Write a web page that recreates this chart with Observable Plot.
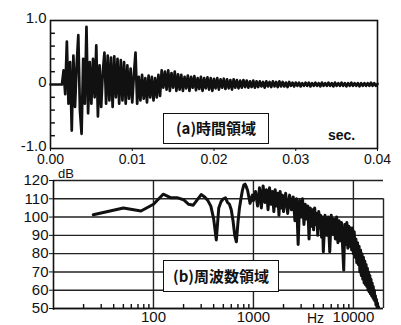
<!DOCTYPE html>
<html><head><meta charset="utf-8">
<script src="https://cdn.jsdelivr.net/npm/d3@7"></script>
<script src="https://cdn.jsdelivr.net/npm/@observablehq/plot@0.6"></script>
<style>
body{margin:0;background:#fff;}
#wrap{position:relative;width:401px;height:325px;overflow:hidden;background:#fff;font-family:"Liberation Sans",Arial,sans-serif;color:#111;}
#a,#b{position:absolute;left:0;}
#a{top:0}
#b{top:163px}
.box{position:absolute;border:1.5px solid #111;background:#fff;font-family:"Noto Sans CJK JP",sans-serif;font-weight:bold;font-size:15px;line-height:28px;text-align:center;box-sizing:border-box;}
.lbl{position:absolute;font-size:14px;line-height:14px;}
</style>
</head><body><div id="wrap"><div id="a"></div><div id="b"></div>
<div class="box" style="left:163px;top:113px;width:106px;height:31px;">(a)時間領域</div>
<div class="lbl" style="left:328px;top:128px;font-weight:bold;">sec.</div>
<div class="box" style="left:163px;top:260px;width:116px;height:32px;line-height:29px;">(b)周波数領域</div>
<div class="lbl" style="left:58px;top:167px;font-size:13px;line-height:13px;">dB</div>
<div class="lbl" style="left:307px;top:311px;">Hz</div>
</div>
<script>
// ---- Panel (a): time domain ----
const waveStart = 0.0014;   // s, first sample after silence
const waveStep = 0.0002;    // s, sample spacing
const waveValues = [
  0, 0.22, -0.15, 0.67, -0.3,
  0.35, -0.72, 0.45, -0.35, 0.3,
  0.77, -0.4, -0.77, 0.4, -0.3,
  0.9, -0.45, 0.35, -0.3, 0.4,
  -0.2, 0.61, -0.5, 0.3, -0.35,
  0.2, 0.5, -0.3, 0.45, -0.25,
  0.42, -0.35, 0.44, -0.2, 0.4,
  -0.3, 0.38, -0.25, 0.35, -0.3,
  0.3, -0.22, 0.25, -0.28, 0.15,
  0.5, -0.3, 0.12, -0.25, 0.15,
  -0.22, 0.1, -0.28, 0.14, -0.2,
  0.12, -0.25, 0.1, -0.2, 0.15,
  -0.18, 0.22, -0.05, 0.2, -0.08,
  0.22, -0.1, 0.18, -0.05, 0.2,
  -0.1, 0.16, -0.08, 0.15, -0.1,
  0.12, -0.06, 0.14, -0.1, 0.12,
  -0.05, 0.13, -0.09, 0.1, -0.07,
  0.12, -0.1, 0.1, -0.06, 0.11,
  -0.08, 0.1, -0.1, 0.09, -0.06,
  0.1, -0.08, 0.08, -0.05, 0.09,
  -0.07, 0.08, -0.06, 0.07, -0.08,
  0.08, -0.05, 0.07, -0.06, 0.06,
  -0.05, 0.07, -0.04, 0.06, -0.05,
  0.05, -0.04, 0.06, -0.05, 0.05,
  -0.04, 0.05, -0.03, 0.04, -0.05,
  0.05, -0.03, 0.04, -0.04, 0.05,
  -0.03, 0.04, -0.04, 0.05, -0.03,
  0.04, -0.03, 0.03, -0.04, 0.04,
  -0.02, 0.03, -0.03, 0.03, -0.02,
  0.03, -0.03, 0.02, -0.02, 0.03,
  -0.02, 0.03, -0.03, 0.02, -0.02,
  0.03, -0.02, 0.02, -0.03, 0.03,
  -0.02, 0.02, -0.02, 0.03, -0.02,
  0.02, -0.03, 0.03, -0.02, 0.02,
  -0.02, 0.03, -0.02, 0.02, -0.03,
  0.02, -0.02, 0.03, -0.02, 0.02,
  -0.02, 0.02, -0.03, 0.02, -0.02,
  0.02, -0.02, 0.02, -0.02, 0.03,
  -0.02, 0.02, -0.02, 0.01
];
const timeTicks = [0, 0.01, 0.02, 0.03, 0.04];
const timeTickLabels = ["0.00", "0.01", "0.02", "0.03", "0.04"];
const ampTicks = [-1, 0, 1];
const ampTickLabels = ["-1.0", "0", "1.0"];
const ampMinorTicks = [-0.8, -0.6, -0.4, -0.2, 0.2, 0.4, 0.6, 0.8];

// ---- Panel (b): frequency domain ----
const specLowFreq = [25,50,75,100,125,150,175,200,225,250,275,300,325,350,375,400,425,450,475,500,
  525,550,575,600,625,650,675,700,725,750,775,800,825,850,875,900,925,950,975,1000];
const specLowDb = [101.3,105,103.3,107,112.5,110.5,110.5,109.5,107,106.5,109.5,112.3,111,109,106,99,87.5,105,108.5,110,
  110.5,108,107,104,98,90,86.5,97,105,110,114.5,117.5,118,116.5,114.5,111,107.5,110,112,109];
// higher band sampled on a coarser grid: [start, stop, step] in Hz
const specHiGrid = [[1050, 2000, 50], [2100, 5000, 100], [5200, 19000, 200]];
const specHiDb = [
  114,106,116,105,117,108,115,104,116,107,114,103,115,106,113,101,114,105,112,103,
  113,102,112,104,111,98,110,85,109,100,110,96,107,99,106,88,105,95,104,93,105,96,102,90,103,94,101,89,100,81,
  101,90,100,81,101,91,99,88,100,86,98,87,97,84,71,
  96,85,97,83,95,84,94,82,94,80,
  92,78,88,75,86,74,84,70,82,68,
  80,66,78,64,76,63,74,62,72,60,
  70,59,68,58,66,57,64,56,62,55,
  60,54,57,52,55,51,53,50,51,48,
  49,47,46,45,44
];
const dbTicks = [50, 60, 70, 80, 90, 100, 110, 120];
const freqTicks = [100, 1000, 10000];
const freqTickLabels = ["100", "1000", "10000"];
const freqMinorTicks = [20,30,40,50,60,70,80,90,200,300,400,500,600,700,800,900,2000,3000,4000,5000,6000,7000,8000,9000];

// ---- build tables ----
const waveData = [{t: 0, v: 0}].concat(waveValues.map((v, i) => ({t: waveStart + i * waveStep, v})));
const hiFreq = specHiGrid.flatMap(([a, b, s]) => d3.range(a, b + s / 2, s));
const specData = specLowFreq.map((f, i) => ({f, db: specLowDb[i]}))
  .concat(hiFreq.map((f, i) => ({f, db: specHiDb[i]})));
const ampLabel = new Map(ampTicks.map((d, i) => [d, ampTickLabels[i]]));
const timeLabel = new Map(timeTicks.map((d, i) => [d, timeTickLabels[i]]));
const freqLabel = new Map(freqTicks.map((d, i) => [d, freqTickLabels[i]]));

const ink = "#111";
const chartA = Plot.plot({
  width: 401, height: 170,
  marginLeft: 50, marginRight: 24, marginTop: 20, marginBottom: 22,
  x: {domain: [0, 0.04]},
  y: {domain: [-1, 1]},
  style: {fontFamily: "Liberation Sans, Arial, sans-serif", fontSize: "14px", color: ink, background: "transparent", overflow: "visible"},
  marks: [
    Plot.ruleY(ampMinorTicks, {x1: 0, x2: 0.0006, stroke: ink, strokeWidth: 1.5}),
    Plot.line(waveData, {x: "t", y: "v", stroke: ink, strokeWidth: 2.7}),
    Plot.frame({stroke: ink, strokeWidth: 1.6}),
    Plot.axisY(ampTicks, {tickSize: 0, tickPadding: 4, dy: -2, fontSize: 15, tickFormat: d => ampLabel.get(d), label: null, style: "letter-spacing:3px"}),
    Plot.axisX(timeTicks, {tickSize: 3, tickPadding: 3, tickFormat: d => timeLabel.get(d), label: null})
  ]
});
document.getElementById("a").append(chartA);

const chartB = Plot.plot({
  width: 401, height: 162,
  marginLeft: 53, marginRight: 18, marginTop: 17, marginBottom: 17,
  x: {type: "log", domain: [10, 20000]},
  y: {domain: [50, 120]},
  style: {fontFamily: "Liberation Sans, Arial, sans-serif", fontSize: "15px", color: ink, background: "transparent", overflow: "visible"},
  marks: [
    Plot.gridY(dbTicks, {stroke: "#222", strokeOpacity: 1, strokeWidth: 1.4}),
    Plot.gridX(freqTicks, {stroke: "#222", strokeOpacity: 1, strokeWidth: 1.4}),
    Plot.ruleX([20000], {y1: 50, y2: 110, stroke: "#222", strokeWidth: 1.4}),
    Plot.ruleX(freqMinorTicks, {y1: 50, y2: 52.2, stroke: ink, strokeWidth: 1.4}),
    Plot.ruleX([10], {y1: 49, y2: 120, stroke: ink, strokeWidth: 1.6}),
    Plot.ruleY([50], {stroke: ink, strokeWidth: 1.6}),
    Plot.line(specData, {x: "f", y: "db", stroke: ink, strokeWidth: 3, clip: true}),
    Plot.axisY(dbTicks, {tickSize: 4, tickPadding: 1, fontSize: 15, label: null}),
    Plot.axisX(freqTicks, {tickSize: 0, tickPadding: 3, fontSize: 15, tickFormat: d => freqLabel.get(d), label: null})
  ]
});
document.getElementById("b").append(chartB);
</script>
</body></html>
